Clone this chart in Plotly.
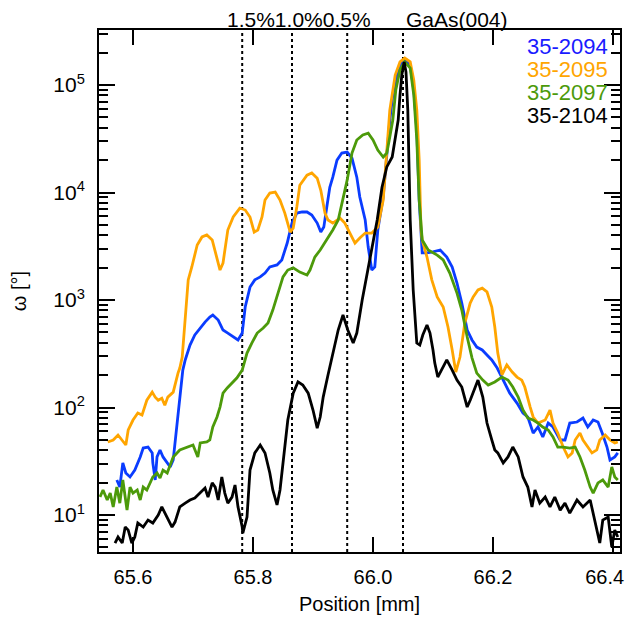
import plotly.graph_objects as go

# ---------------- data ----------------
x_2094 = [65.573, 65.578, 65.583, 65.588, 65.595, 65.603, 65.612, 65.617, 65.625, 65.632, 65.633, 65.637, 65.640,
          65.645, 65.650, 65.657, 65.662, 65.667, 65.672, 65.678, 65.683, 65.687, 65.695, 65.703, 65.712, 65.720,
          65.728, 65.733, 65.742, 65.750, 65.758, 65.767, 65.775, 65.782, 65.787, 65.795, 65.803, 65.812, 65.820,
          65.828, 65.840, 65.848, 65.857, 65.865, 65.873, 65.882, 65.890, 65.898, 65.907, 65.913, 65.918, 65.923,
          65.928, 65.933, 65.940, 65.948, 65.957, 65.965, 65.973, 65.978, 65.987, 65.992, 65.998, 66.003, 66.008,
          66.017, 66.023, 66.028, 66.033, 66.040, 66.048, 66.055, 66.062, 66.068, 66.073, 66.077, 66.082, 66.090,
          66.100, 66.112, 66.123, 66.132, 66.140, 66.148, 66.157, 66.165, 66.173, 66.182, 66.190, 66.198, 66.207,
          66.217, 66.228, 66.240, 66.250, 66.258, 66.267, 66.275, 66.283, 66.292, 66.300, 66.312, 66.320, 66.328,
          66.340, 66.350, 66.358, 66.367, 66.375, 66.382, 66.390, 66.395, 66.403, 66.408]
y_2094 = [21.2, 18.2, 30.5, 24.6, 22.6, 26.2, 34.7, 42.0, 42.9, 37.8, 30.5, 21.2, 34.7,
          40.3, 34.7, 30.5, 28.0, 32.5, 61.8, 125, 223, 277, 381, 473, 549, 624,
          695, 725, 651, 526, 493, 453, 425, 493, 861, 1320, 1540, 1640, 1780,
          2030, 2120, 2360, 3390, 5200, 6440, 6590, 6590, 6180, 5200, 4290, 4770, 7330,
          11200, 13900, 20000, 23300, 23800, 20900, 13900, 9080, 5550, 3110, 1900, 2030, 4480,
          9080, 23300, 47200, 80700, 124000, 164000, 171000, 153000, 89800, 38100, 8510, 2740, 2740,
          2800, 2920, 2510, 2030, 1440, 938, 526, 425, 365, 343, 308, 277, 233,
          180, 136, 110, 88.9, 81.6, 57.9, 65.9, 53.2, 71.7, 65.9, 49.9, 49.9, 71.7,
          73.3, 79.8, 65.9, 76.5, 73.3, 57.9, 42.9, 32.5, 34.7, 37.8]

x_2095 = [65.558, 65.567, 65.575, 65.582, 65.588, 65.592, 65.600, 65.608, 65.615, 65.623, 65.632, 65.637, 65.642,
          65.648, 65.653, 65.658, 65.667, 65.675, 65.678, 65.682, 65.687, 65.692, 65.698, 65.707, 65.715, 65.723,
          65.732, 65.740, 65.745, 65.750, 65.758, 65.767, 65.778, 65.787, 65.795, 65.802, 65.808, 65.815, 65.820,
          65.828, 65.837, 65.845, 65.853, 65.862, 65.867, 65.873, 65.878, 65.890, 65.898, 65.907, 65.913, 65.920,
          65.925, 65.933, 65.945, 65.953, 65.962, 65.970, 65.978, 65.987, 65.998, 66.008, 66.017, 66.023, 66.028,
          66.037, 66.045, 66.053, 66.062, 66.068, 66.073, 66.077, 66.080, 66.082, 66.090, 66.098, 66.107, 66.117,
          66.125, 66.132, 66.138, 66.145, 66.153, 66.162, 66.167, 66.175, 66.182, 66.190, 66.198, 66.203, 66.208,
          66.215, 66.223, 66.232, 66.240, 66.248, 66.253, 66.262, 66.267, 66.275, 66.287, 66.295, 66.300, 66.308,
          66.317, 66.325, 66.332, 66.337, 66.345, 66.350, 66.358, 66.365, 66.373, 66.378, 66.387, 66.395, 66.403,
          66.408]
y_2095 = [47.8, 49.9, 55.5, 49.9, 44.8, 61.8, 76.5, 88.9, 85.1, 117, 139, 125, 117,
          122, 105, 125, 139, 209, 233, 295, 651, 1540, 2030, 3250, 3860, 4030,
          3620, 2360, 1900, 2210, 4480, 5920, 7170, 6870, 5920, 4290, 4480, 5920, 8510,
          9900, 10100, 8510, 6440, 4290, 4670, 7330, 11700, 14500, 15200, 13600, 10500, 6440,
          5550, 5200, 5790, 5200, 4200, 3390, 3780, 4200, 4200, 4770, 8510, 24800, 58500,
          124000, 164000, 178000, 164000, 111000, 58500, 20000, 4480, 3620, 2510, 1540, 1070, 861,
          561, 343, 214, 295, 611, 938, 1070, 1240, 1290, 1190, 861, 561, 321,
          201, 249, 214, 192, 180, 155, 101, 81.6, 71.7, 76.5, 94.8, 71.7, 57.9,
          42.9, 34.7, 37.8, 49.9, 57.9, 49.9, 42.9, 37.8, 40.3, 49.9, 55.5, 49.9, 46.8,
          47.8]

x_2097 = [65.545, 65.550, 65.557, 65.562, 65.567, 65.573, 65.578, 65.583, 65.590, 65.595, 65.600, 65.607, 65.612,
          65.617, 65.623, 65.628, 65.633, 65.640, 65.645, 65.650, 65.657, 65.662, 65.667, 65.678, 65.690, 65.700,
          65.708, 65.712, 65.723, 65.728, 65.733, 65.740, 65.745, 65.750, 65.757, 65.765, 65.773, 65.782, 65.790,
          65.798, 65.807, 65.817, 65.825, 65.833, 65.842, 65.850, 65.858, 65.867, 65.878, 65.890, 65.895, 65.903,
          65.912, 65.923, 65.933, 65.942, 65.948, 65.957, 65.965, 65.973, 65.983, 65.992, 66.000, 66.008, 66.017,
          66.023, 66.028, 66.033, 66.038, 66.045, 66.053, 66.062, 66.068, 66.073, 66.077, 66.082, 66.092, 66.107,
          66.117, 66.128, 66.140, 66.148, 66.157, 66.165, 66.173, 66.183, 66.192, 66.203, 66.215, 66.225, 66.233,
          66.242, 66.250, 66.258, 66.267, 66.275, 66.283, 66.292, 66.300, 66.308, 66.317, 66.328, 66.337, 66.345,
          66.353, 66.362, 66.367, 66.375, 66.383, 66.392, 66.398, 66.403, 66.408]
y_2097 = [14.7, 17.1, 13.8, 16.0, 11.9, 18.2, 12.9, 21.2, 11.1, 18.2, 16.0, 17.1, 13.8,
          18.2, 17.1, 19.9, 22.6, 24.6, 22.1, 26.2, 24.6, 29.2, 34.7, 40.3, 42.9, 44.8,
          34.7, 46.8, 47.8, 49.9, 65.9, 81.6, 101, 136, 152, 169, 188, 223, 321,
          398, 493, 549, 611, 807, 1160, 1640, 1900, 1990, 1820, 1710, 1900, 2510,
          2920, 3620, 4480, 5550, 7980, 13100, 23300, 30800, 34300, 35700, 30800, 24800, 21400,
          23300, 32800, 47200, 89800, 138000, 164000, 144000, 80700, 30800, 8510, 3620, 2920, 2620,
          2360, 1780, 1160, 807, 453, 290, 209, 180, 162, 173, 192, 180, 155,
          125, 94.8, 79.8, 76.5, 71.7, 65.9, 61.8, 53.2, 42.9, 42.9, 42.0, 42.9, 34.7,
          26.2, 18.2, 16.0, 19.9, 21.2, 18.2, 28.0, 22.6, 21.2]

x_2104 = [65.570, 65.575, 65.582, 65.587, 65.592, 65.598, 65.603, 65.608, 65.617, 65.625, 65.633, 65.642, 65.648,
          65.657, 65.665, 65.670, 65.678, 65.687, 65.695, 65.703, 65.712, 65.720, 65.725, 65.732, 65.737, 65.742,
          65.748, 65.753, 65.758, 65.765, 65.770, 65.775, 65.782, 65.783, 65.790, 65.795, 65.803, 65.812, 65.820,
          65.828, 65.833, 65.840, 65.845, 65.850, 65.858, 65.867, 65.875, 65.883, 65.892, 65.900, 65.907, 65.912,
          65.917, 65.925, 65.933, 65.942, 65.950, 65.958, 65.967, 65.973, 65.982, 65.990, 65.998, 66.007, 66.015,
          66.023, 66.032, 66.037, 66.042, 66.045, 66.048, 66.052, 66.055, 66.058, 66.062, 66.067, 66.070, 66.073,
          66.078, 66.083, 66.090, 66.095, 66.100, 66.103, 66.108, 66.117, 66.123, 66.132, 66.140, 66.148, 66.157,
          66.162, 66.170, 66.175, 66.183, 66.190, 66.198, 66.203, 66.208, 66.217, 66.225, 66.233, 66.242, 66.250,
          66.258, 66.265, 66.270, 66.278, 66.287, 66.295, 66.303, 66.312, 66.320, 66.328, 66.340, 66.350, 66.362,
          66.370, 66.378, 66.383, 66.392, 66.398, 66.403, 66.408]
y_2104 = [5.49, 6.24, 5.49, 7.73, 7.24, 5.49, 6.24, 8.43, 7.73, 8.98, 8.43, 10.0, 11.9,
          9.58, 7.73, 8.60, 11.9, 12.9, 13.8, 14.4, 16.0, 17.8, 14.7, 19.9, 18.2, 13.8,
          22.6, 16.0, 12.9, 14.7, 19.0, 11.9, 7.73, 6.80, 9.58, 26.2, 37.8, 44.8, 37.8,
          24.6, 17.1, 12.4, 17.1, 30.5, 76.5, 136, 173, 162, 136, 94.8, 64.4, 81.6,
          125, 201, 308, 526, 725, 526, 398, 493, 1000, 1780, 3110, 5550, 11200,
          17300, 21400, 30800, 47200, 80700, 124000, 164000, 132000, 58500, 5550, 1240, 651, 398,
          381, 473, 585, 493, 343, 259, 192, 238, 277, 223, 180, 155, 101,
          117, 155, 180, 125, 71.7, 49.9, 40.3, 37.8, 30.5, 34.7, 42.9, 34.7, 22.6,
          18.2, 11.9, 17.1, 12.9, 14.7, 11.9, 14.7, 11.1, 12.9, 10.4, 13.8, 11.9, 13.8,
          8.98, 5.49, 8.98, 9.58, 5.04, 7.24, 6.24]

series_names = ["35-2094", "35-2095", "35-2097", "35-2104"]
series_colors = ["#0a3cff", "#ffa500", "#4c9a0a", "#000000"]
legend_text_colors = ["#1a1aff", "#ffa500", "#4c9a0a", "#000000"]

ref_positions = [65.782, 65.865, 65.957, 66.050]   # dotted reference lines
x_tick_vals = [65.6, 65.8, 66.0, 66.2, 66.4]
x_tick_text = ["65.6", "65.8", "66.0", "66.2", "66.4&nbsp;&nbsp;&nbsp;"]
y_tick_vals = [10, 100, 1000, 10000, 100000]
y_tick_text = ["10<sup>1</sup>", "10<sup>2</sup>", "10<sup>3</sup>", "10<sup>4</sup>", "10<sup>5</sup>"]
y_minor_vals = [m * d for d in [1, 10, 100, 1000, 10000, 100000] for m in range(2, 10)]

FONT = "Liberation Sans, Arial, sans-serif"

fig = go.Figure()
for xs, ys, name, col in zip([x_2094, x_2095, x_2097, x_2104],
                             [y_2094, y_2095, y_2097, y_2104],
                             series_names, series_colors):
    fig.add_trace(go.Scatter(x=xs, y=ys, mode="lines", name=name,
                             line=dict(color=col, width=2.8), showlegend=False))

for xp in ref_positions:
    fig.add_shape(type="line", x0=xp, x1=xp, xref="x", y0=0, y1=1, yref="paper",
                  line=dict(color="black", width=2, dash="3px,3px"), layer="below")

# legend as coloured text
legend_y = [0.968, 0.924, 0.880, 0.836]
for name, col, yy in zip(series_names, legend_text_colors, legend_y):
    fig.add_annotation(text=name, x=0.978, y=yy, xref="paper", yref="paper",
                       xanchor="right", yanchor="middle", showarrow=False, borderpad=0,
                       font=dict(family=FONT, size=22, color=col))

# labels on top
fig.add_annotation(text="1.5%1.0%0.5%", x=65.7555, y=1.021, xref="x", yref="paper",
                   xanchor="left", yanchor="middle", showarrow=False, borderpad=0,
                   font=dict(family=FONT, size=21, color="black"))
fig.add_annotation(text="GaAs(004)", x=66.053, y=1.021, xref="x", yref="paper",
                   xanchor="left", yanchor="middle", showarrow=False, borderpad=0,
                   font=dict(family=FONT, size=21, color="black"))

# the page body adds an 8 px offset, so the figure is 8 px smaller and margins are shifted
fig.update_layout(
    width=626, height=614,
    margin=dict(l=91, r=14, t=22, b=70),
    paper_bgcolor="white", plot_bgcolor="white",
    font=dict(family=FONT, color="black"),
    xaxis=dict(range=[65.5433, 66.4117], tickmode="array", tickvals=x_tick_vals, ticktext=x_tick_text,
               ticks="inside", ticklen=15, tickwidth=1.5, tickcolor="black",
               showline=True, linewidth=2, linecolor="black", mirror="allticks",
               showgrid=False, zeroline=False, automargin=False, ticklabeloverflow="allow",
               tickfont=dict(family=FONT, size=20), ticklabelstandoff=6,
               title=dict(text="Position [mm]", font=dict(family=FONT, size=20), standoff=10)),
    yaxis=dict(type="log", range=[0.656, 5.512], tickmode="array", tickvals=y_tick_vals, ticktext=y_tick_text,
               ticks="inside", ticklen=16, tickwidth=1.5, tickcolor="black",
               minor=dict(tickmode="array", tickvals=y_minor_vals, ticks="inside", ticklen=9,
                          tickwidth=1.5, tickcolor="black", showgrid=False),
               showline=True, linewidth=2, linecolor="black", mirror="allticks",
               showgrid=False, zeroline=False, automargin=False,
               tickfont=dict(family=FONT, size=21), ticklabelstandoff=8,
               title=dict(text="ω [°]", font=dict(family=FONT, size=20), standoff=30)),
)

fig.write_html("out.html")
